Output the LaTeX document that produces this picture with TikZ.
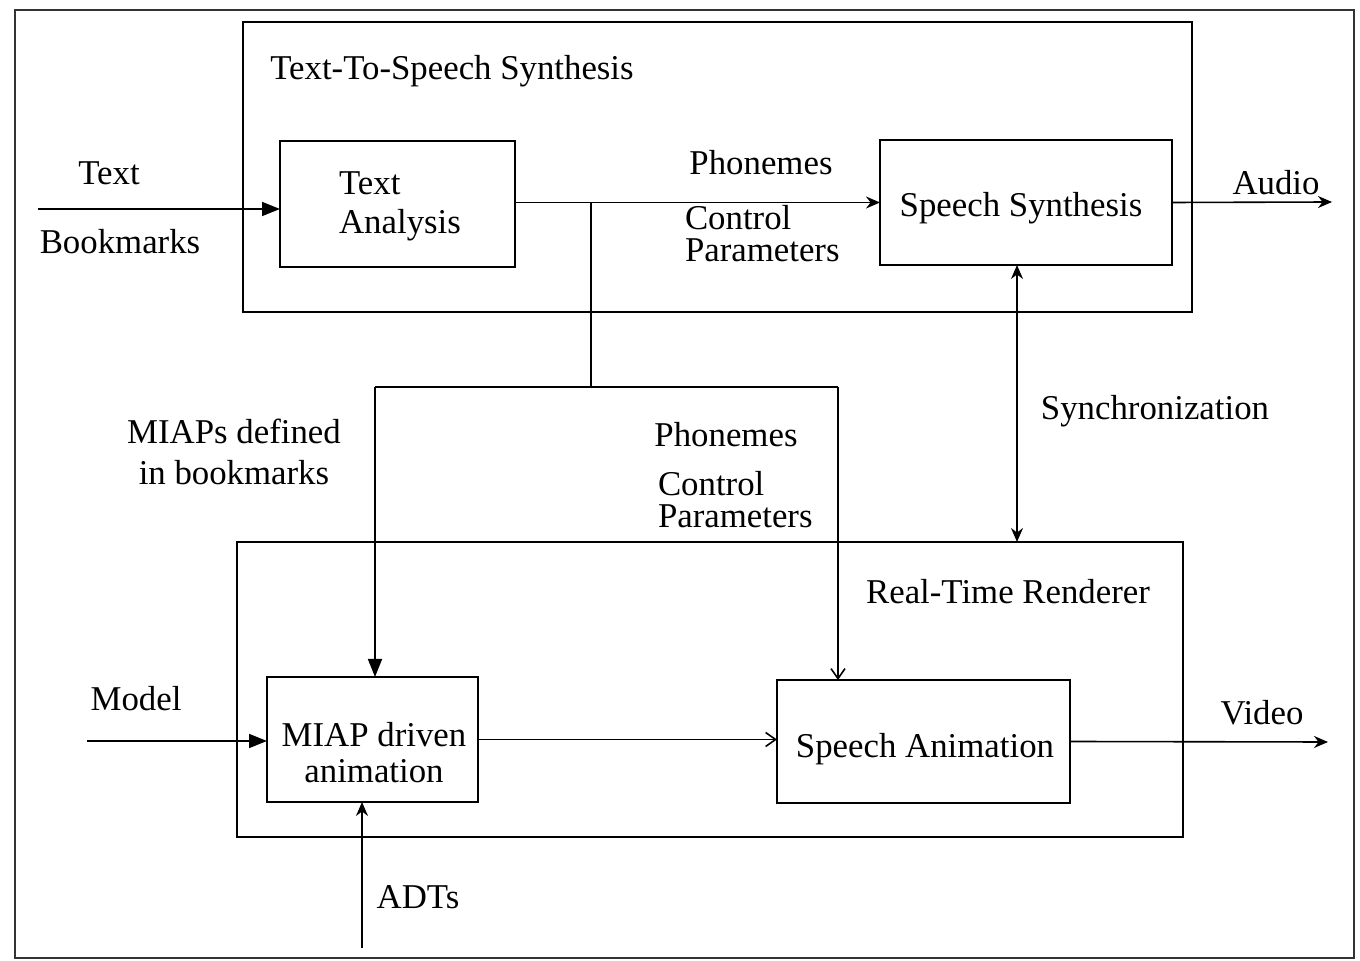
\documentclass[tikz,border=0pt]{standalone}
\usepackage{fontspec}
\setmainfont{Liberation Serif}
\usetikzlibrary{arrows.meta}
\begin{document}
\begin{tikzpicture}[x=0.5pt,y=-0.5pt,
  every node/.style={font=\fontsize{17.4}{20}\selectfont, inner sep=0pt, outer sep=0pt},
  box/.style={draw, line width=1.1pt},
  container/.style={draw, line width=1.1pt, anchor=north west},
  conn/.style={line width=0.8pt},
  filltip/.style={conn, -{Triangle[length=9pt,width=7pt]}},
  stealthtip/.style={conn, -{Stealth[length=7pt,width=6pt]}},
  barbtip/.style={conn, -{Straight Barb[length=5pt,width=7pt]}},
  lbl/.style={}
]
\useasboundingbox (0,0) rectangle (1360,961);
\draw[line width=0.9pt, black!80] (15,10) rectangle (1354,958);

% containers
\node[container, minimum width=474.5pt, minimum height=145pt] (tts) at (243,22) {};
\node[container, minimum width=473pt, minimum height=147.5pt] (rtr) at (237,542) {};
\node[lbl] (ttsl) at (452,71) {Text-To-Speech Synthesis};
\node[lbl] (rtrl) at (1008,592) {Real-Time Renderer};

% boxes
\node[box, minimum width=117.5pt, minimum height=63pt] (ta) at (397.5,204) {};
\node[box, minimum width=146pt, minimum height=62.5pt] (ss) at (1026,202.5) {};
\node[box, minimum width=105.5pt, minimum height=62.5pt] (miap) at (372.5,739.5) {};
\node[box, minimum width=146.5pt, minimum height=61.5pt] (sa) at (923.5,741.5) {};
\node[align=left, font=\fontsize{17.4}{19.5}\selectfont] (tat) at (400,206.5) {Text\\Analysis};
\node (sst) at (1021,208.5) {Speech Synthesis};
\node[align=center, font=\fontsize{17.4}{18}\selectfont] (miapt) at (374,752.5) {MIAP driven\\animation};
\node (sat) at (925,749.5) {Speech Animation};

% labels
\node[lbl] (ltext) at (109,173) {Text};
\node[lbl] (lbook) at (120,242) {Bookmarks};
\node[lbl] (lph1) at (761,163) {Phonemes};
\node[lbl, anchor=west, align=left, font=\fontsize{17.4}{16}\selectfont] (lcp1) at (685,234) {Control\\Parameters};
\node[lbl] (laudio) at (1276,183) {Audio};
\node[lbl] (lsync) at (1155,411) {Synchronization};
\node[lbl, align=center, font=\fontsize{17.4}{20.5}\selectfont] (lmiaps) at (234,452) {MIAPs defined\\in bookmarks};
\node[lbl] (lph2) at (726,435) {Phonemes};
\node[lbl, anchor=west, align=left, font=\fontsize{17.4}{16}\selectfont] (lcp2) at (658,500) {Control\\Parameters};
\node[lbl] (lmodel) at (136,699) {Model};
\node[lbl] (lvideo) at (1262,713) {Video};
\node[lbl] (ladts) at (418,897) {ADTs};

% coordinates
\coordinate (inT) at (38,209);
\coordinate (outA) at (1332,202);
\coordinate (j1) at (591,202);
\coordinate (j2) at (591,387);
\coordinate (bl) at (375,387);
\coordinate (br) at (838,387);
\coordinate (sx) at (1017,400);
\coordinate (inM) at (87,741);
\coordinate (outV) at (1328,742);
\coordinate (adt) at (362,948);

% connectors
\draw[filltip] (inT) -- (inT -| ta.west);
\draw[stealthtip] (ta.east |- ss.west) -- (ss.west);
\draw[stealthtip] (ss.east) -- (outA);
\draw[conn] (j1) -- (j2);
\draw[conn] (bl) -- (br);
\draw[filltip] (bl) -- (bl |- miap.north);
\draw[barbtip] (br) -- (br |- sa.north);
\draw[conn, {Stealth[length=7pt,width=6pt]}-{Stealth[length=7pt,width=6pt]}] (sx |- ss.south) -- (sx |- rtr.north);
\draw[filltip] (inM) -- (inM -| miap.west);
\draw[barbtip] (miap.east) -- (miap.east -| sa.west);
\draw[stealthtip] (sa.east) -- (outV);
\draw[stealthtip] (adt) -- (adt |- miap.south);
\end{tikzpicture}
\end{document}
